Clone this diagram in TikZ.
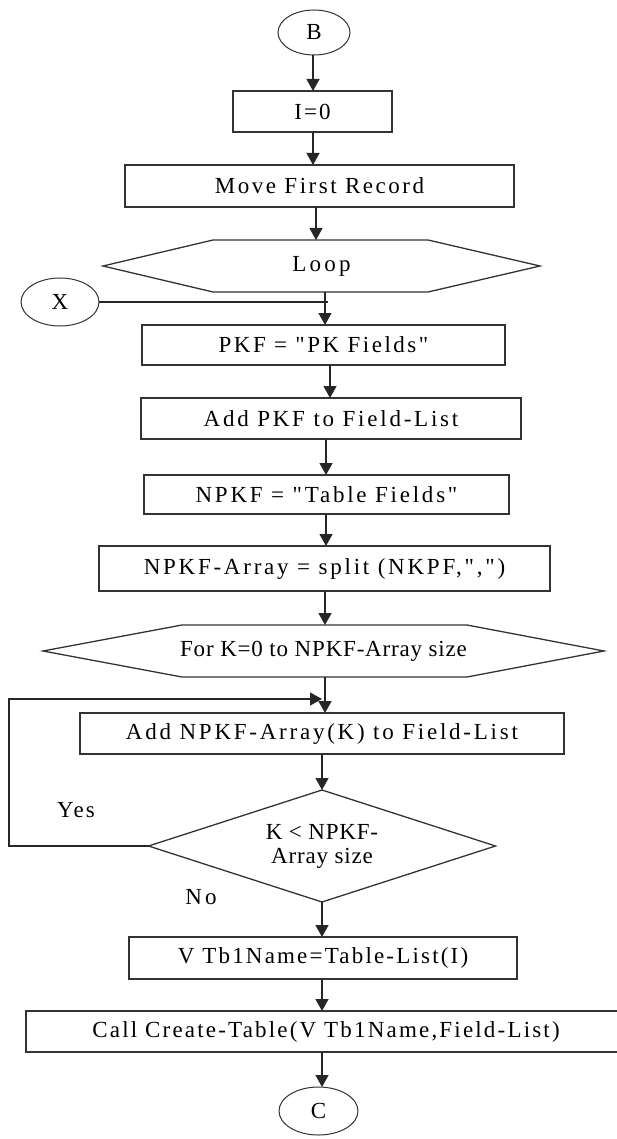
\documentclass[tikz,border=0pt]{standalone}
\usepackage{fontspec}
\setmainfont{Liberation Serif}[Ligatures=TeXOff]
\usetikzlibrary{arrows.meta,shapes.geometric}
\newcommand\fnt[1]{\fontsize{23}{24}\selectfont\addfontfeatures{LetterSpace=#1}}
\tikzset{
  base/.style={line width=1.3pt, draw=black!80},
  plain/.style={inner sep=0pt, outer sep=0pt, rectangle},
  boxnode/.style={plain, base},
  ovalnode/.style={ellipse, inner sep=0pt, outer sep=0pt, base, line width=1pt},
  conn/.style={line width=1.3pt, draw=black!85, -{Triangle[length=12pt,width=13pt]}},
  link/.style={line width=1.3pt, draw=black!85},
}
\begin{document}
\begin{tikzpicture}[x=1pt,y=-1pt]
\useasboundingbox (0,0) rectangle (616,1139);
% nodes
\node[ovalnode, minimum width=72, minimum height=45, font=\fnt{0}] (B) at (314,32.5) {B};
\node[boxnode, minimum width=159, minimum height=41, font=\fnt{9}] (I0) at (312.5,111.5) {I=0};
\node[boxnode, minimum width=389, minimum height=42, font=\fnt{11}] (move) at (319.5,186) {Move First Record};
\node[plain, minimum width=437, minimum height=52, font=\fnt{14}] (loop) at (321.5,266) {Loop};
\draw[base] (loop.west) -- ([xshift=110]loop.north west) -- ([xshift=-112]loop.north east)
  -- (loop.east) -- ([xshift=-112]loop.south east) -- ([xshift=110]loop.south west) -- cycle;
\node[ovalnode, minimum width=78, minimum height=48, font=\fnt{0}] (X) at (60,302) {X};
\node[boxnode, minimum width=363, minimum height=40, font=\fnt{11}] (pkf) at (323.5,345) {PKF = "PK Fields"};
\node[boxnode, minimum width=380, minimum height=41, font=\fnt{12}] (addpkf) at (331,418.5) {Add PKF to Field-List};
\node[boxnode, minimum width=365, minimum height=39, font=\fnt{12}] (npkf) at (326.5,494.5) {NPKF = "Table Fields"};
\node[boxnode, minimum width=451, minimum height=45, font=\fnt{12}] (arr) at (324.5,568.5) {NPKF-Array = split (NKPF,",")};
\node[plain, minimum width=561, minimum height=52, font=\fnt{3.5}] (fork) at (323.5,651) {For K=0 to NPKF-Array size};
\draw[base] (fork.west) -- ([xshift=139]fork.north west) -- ([xshift=-137]fork.north east)
  -- (fork.east) -- ([xshift=-137]fork.south east) -- ([xshift=139]fork.south west) -- cycle;
\node[boxnode, minimum width=484, minimum height=41, font=\fnt{12}] (addk) at (322,733.5) {Add NPKF-Array(K) to Field-List};
\node[plain, minimum width=347, minimum height=112, align=center, font=\fnt{3.5}] (dec) at (322,846) {K < NPKF-\\Array size};
\draw[base] (dec.west) -- (dec.north) -- (dec.east) -- (dec.south) -- cycle;
\node[boxnode, minimum width=388, minimum height=42, font=\fnt{9.5}] (vtb) at (323,958) {V Tb1Name=Table-List(I)};
\node[boxnode, minimum width=592, minimum height=41] (call) at (322,1031.5) {};
\node[plain, font=\fnt{9.5}] (calltxt) at (326,1031.5) {Call Create-Table(V Tb1Name,Field-List)};
\node[ovalnode, minimum width=79, minimum height=48, font=\fnt{0}] (C) at (318.5,1111) {C};
\node[plain, font=\fnt{9}] (yes) at (76,810) {Yes};
\node[plain, font=\fnt{14}] (no) at (201,897) {No};
% connectors
\draw[conn] (313,0 |- B.south) -- (313,0 |- I0.north);
\draw[conn] (313,0 |- I0.south) -- (313,0 |- move.north);
\draw[conn] (316,0 |- move.south) -- (316,0 |- loop.north);
\draw[conn] (325,0 |- loop.south) -- (325,0 |- pkf.north);
\coordinate (xj) at (328,302);
\draw[link] (X.east) -- (xj);
\draw[conn] (330,0 |- pkf.south) -- (330,0 |- addpkf.north);
\draw[conn] (326,0 |- addpkf.south) -- (326,0 |- npkf.north);
\draw[conn] (326,0 |- npkf.south) -- (326,0 |- arr.north);
\draw[conn] (325,0 |- arr.south) -- (325,0 |- fork.north);
\draw[conn] (325,0 |- fork.south) -- (325,0 |- addk.north);
\coordinate (lb1) at (9,846);
\coordinate (lb2) at (9,699);
\coordinate (lb3) at (322,699);
\draw[conn] (dec.west) -- (lb1) -- (lb2) -- (lb3);
\draw[conn] (addk.south) -- (dec.north);
\draw[conn] (dec.south) -- (322,0 |- vtb.north);
\draw[conn] (322,0 |- vtb.south) -- (322,0 |- call.north);
\draw[conn] (322,0 |- call.south) -- (322,0 |- C.north);
\end{tikzpicture}
\end{document}
